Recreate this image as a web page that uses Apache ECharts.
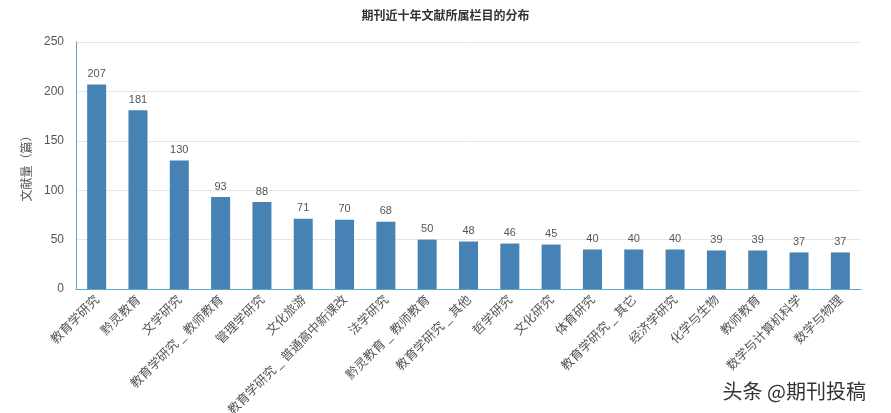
<!DOCTYPE html><html><head><meta charset="utf-8"><script src="https://cdn.jsdelivr.net/npm/echarts@6/dist/echarts.min.js"></script></head><body style="margin:0"><div id="c" style="width:891px;height:413px"></div><script>
const categories=["教育学研究","黔灵教育","文学研究","教育学研究 _ 教师教育","管理学研究","文化旅游","教育学研究 _ 普通高中新课改","法学研究","黔灵教育 _ 教师教育","教育学研究 _ 其他","哲学研究","文化研究","体育研究","教育学研究 _ 其它","经济学研究","化学与生物","教师教育","数学与计算机科学","数学与物理"];
const values=[207,181,130,93,88,71,70,68,50,48,46,45,40,40,40,39,39,37,37];
const yTicks=[0,50,100,150,200,250];
const f='"Noto Sans CJK SC",sans-serif';
const ch=echarts.init(document.getElementById('c'));
ch.setOption({
title:{text:'期刊近十年文献所属栏目的分布',left:'center',top:4,textStyle:{fontSize:12,fontWeight:'bold',color:'#333',fontFamily:f}},
grid:{left:76,right:30,top:42,bottom:124,outerBoundsMode:'none'},
xAxis:{type:'category',data:categories,axisLine:{lineStyle:{color:'#5aa9c9'}},axisTick:{length:6,lineStyle:{color:'#ccc'}},axisLabel:{rotate:45,interval:0,color:'#555',fontSize:12.5,fontFamily:f}},
yAxis:{type:'value',min:0,max:250,interval:50,name:'文献量（篇）',nameLocation:'middle',nameGap:44,nameTextStyle:{color:'#555',fontSize:12,fontFamily:f},axisLine:{show:true,lineStyle:{color:'#5aa9c9'}},axisLabel:{color:'#555',fontSize:12,margin:12},splitLine:{lineStyle:{color:'#e6e6e6'}}},
series:[{type:'bar',data:values,barWidth:'46%',itemStyle:{color:'#4682b4'},label:{show:true,position:'top',color:'#555',fontSize:11}}],
graphic:[{type:'text',right:25,bottom:12,style:{text:'头条 @期刊投稿',fontSize:20,fill:'#333',fontFamily:f}}]
});
</script></body></html>
